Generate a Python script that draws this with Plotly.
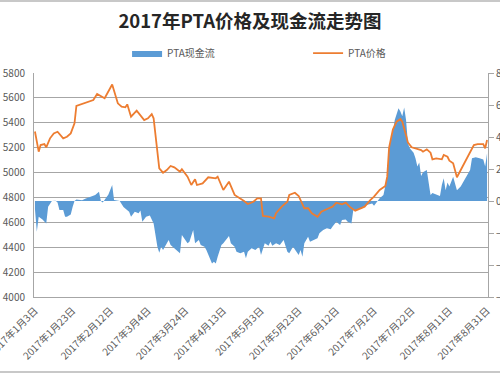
import plotly.graph_objects as go

price_dates = ["2017-01-03","2017-01-05","2017-01-06","2017-01-08","2017-01-09","2017-01-11","2017-01-13","2017-01-15",
"2017-01-18","2017-01-20","2017-01-22","2017-01-24","2017-01-25","2017-02-03","2017-02-05","2017-02-09","2017-02-13",
"2017-02-16","2017-02-18","2017-02-20","2017-02-21","2017-02-23","2017-02-26","2017-02-28","2017-03-02","2017-03-04",
"2017-03-06","2017-03-07","2017-03-09","2017-03-10","2017-03-12","2017-03-14","2017-03-16","2017-03-18","2017-03-21",
"2017-03-22","2017-03-25","2017-03-27","2017-03-29","2017-03-30","2017-04-02","2017-04-05","2017-04-09","2017-04-10",
"2017-04-13","2017-04-16","2017-04-19","2017-04-22","2017-04-24","2017-04-26","2017-04-29","2017-05-01","2017-05-03",
"2017-05-04","2017-05-07","2017-05-10","2017-05-11","2017-05-14","2017-05-17","2017-05-18","2017-05-21","2017-05-23",
"2017-05-25","2017-05-26","2017-05-28","2017-05-30","2017-06-02","2017-06-04","2017-06-08","2017-06-10","2017-06-12",
"2017-06-15","2017-06-17","2017-06-19","2017-06-22","2017-06-24","2017-06-27","2017-06-30","2017-07-02","2017-07-05",
"2017-07-08","2017-07-09","2017-07-10","2017-07-12","2017-07-14","2017-07-16","2017-07-17","2017-07-19","2017-07-20",
"2017-07-22","2017-07-25","2017-07-27","2017-07-28","2017-07-30","2017-08-01","2017-08-02","2017-08-04","2017-08-07",
"2017-08-08","2017-08-10","2017-08-11","2017-08-13","2017-08-15","2017-08-17","2017-08-20","2017-08-24","2017-08-26",
"2017-08-29","2017-08-30","2017-08-31"]
price_values = [5330,5168,5221,5229,5203,5275,5315,5328,
5275,5288,5315,5396,5535,5583,5631,5597,5708,
5556,5529,5524,5548,5449,5497,5462,5422,5436,
5470,5436,5181,5034,4999,5020,5053,5042,5007,
5026,4967,4900,4946,4900,4913,4962,4954,4967,
4860,4927,4820,4793,4771,4747,4766,4793,4793,
4651,4645,4632,4673,4726,4766,4820,4838,4812,
4739,4713,4713,4673,4645,4686,4713,4726,4758,
4745,4758,4726,4694,4705,4726,4779,4806,4860,
4892,4967,5200,5345,5409,5430,5409,5300,5240,
5203,5187,5181,5168,5187,5160,5106,5114,5106,
5141,5127,5095,5074,4962,5020,5101,5221,5229,
5229,5195,5262]

flow_dates = ["2017-01-03","2017-01-04","2017-01-05","2017-01-07","2017-01-09","2017-01-10","2017-01-12","2017-01-14",
"2017-01-15","2017-01-16","2017-01-18","2017-01-19","2017-01-20","2017-01-22","2017-01-23","2017-01-24","2017-01-25",
"2017-01-28","2017-01-30","2017-02-02","2017-02-04","2017-02-06","2017-02-07","2017-02-08","2017-02-09","2017-02-11",
"2017-02-13","2017-02-14","2017-02-17","2017-02-19","2017-02-22","2017-02-23","2017-02-25","2017-02-27","2017-02-28",
"2017-03-01","2017-03-03","2017-03-05","2017-03-07","2017-03-08","2017-03-09","2017-03-10","2017-03-11","2017-03-12",
"2017-03-14","2017-03-15","2017-03-16","2017-03-17","2017-03-19","2017-03-21","2017-03-22","2017-03-23","2017-03-25",
"2017-03-26","2017-03-28","2017-03-29","2017-03-31","2017-04-01","2017-04-03","2017-04-04","2017-04-06","2017-04-07",
"2017-04-08","2017-04-09","2017-04-10","2017-04-12","2017-04-13","2017-04-15","2017-04-16","2017-04-17","2017-04-19",
"2017-04-20","2017-04-22","2017-04-24","2017-04-25","2017-04-26","2017-04-28","2017-04-30","2017-05-02","2017-05-03",
"2017-05-05","2017-05-07","2017-05-08","2017-05-09","2017-05-11","2017-05-13","2017-05-15","2017-05-17","2017-05-18",
"2017-05-20","2017-05-22","2017-05-23","2017-05-24","2017-05-25","2017-05-26","2017-05-27","2017-05-28","2017-05-29",
"2017-05-31","2017-06-02","2017-06-03","2017-06-05","2017-06-07","2017-06-09","2017-06-10","2017-06-12","2017-06-14",
"2017-06-15","2017-06-17","2017-06-18","2017-06-20","2017-06-21","2017-06-23","2017-06-25","2017-06-26","2017-06-28",
"2017-07-01","2017-07-02","2017-07-04","2017-07-05","2017-07-07","2017-07-08","2017-07-09","2017-07-10","2017-07-12",
"2017-07-13","2017-07-14","2017-07-15","2017-07-16","2017-07-17","2017-07-18","2017-07-19","2017-07-20","2017-07-21",
"2017-07-23","2017-07-24","2017-07-25","2017-07-26","2017-07-27","2017-07-28","2017-07-30","2017-07-31","2017-08-01",
"2017-08-02","2017-08-04","2017-08-06","2017-08-07","2017-08-08","2017-08-09","2017-08-10","2017-08-11","2017-08-13",
"2017-08-14","2017-08-15","2017-08-17","2017-08-18","2017-08-20","2017-08-22","2017-08-23","2017-08-25","2017-08-27",
"2017-08-29","2017-08-30","2017-08-31"]
flow_values = [-0.5,-1.92,-0.98,-1.15,-1.4,-0.36,0.0,0.02,
-0.1,-0.56,-0.56,-0.98,-0.98,-0.85,-0.37,0.0,0.1,
0.05,0.15,0.27,0.38,0.58,0.0,-0.1,0.05,0.4,
1.0,0.06,0.0,-0.37,-0.67,-0.98,-0.67,-0.77,-0.6,
-1.29,-0.98,-0.9,-1.4,-2.23,-2.86,-3.23,-2.86,-3.06,
-2.64,-2.44,-2.75,-2.86,-3.06,-3.27,-2.13,-2.33,-2.64,
-2.54,-1.81,-2.64,-2.44,-2.75,-2.86,-3.06,-3.69,-3.9,
-3.8,-3.9,-3.48,-2.75,-2.64,-2.33,-2.19,-2.64,-2.86,
-3.17,-3.27,-3.17,-3.58,-3.17,-2.96,-3.06,-2.86,-3.38,
-2.64,-2.8,-2.54,-2.8,-2.64,-2.75,-2.44,-3.17,-3.27,
-2.86,-3.17,-3.38,-3.06,-3.48,-2.64,-2.44,-2.23,-2.54,
-2.44,-2.33,-2.02,-1.81,-1.71,-1.77,-1.6,-1.29,-1.5,
-1.19,-1.15,-1.29,-1.4,-0.56,-0.56,-0.46,-0.37,-0.25,
-0.15,-0.3,0.0,0.17,0.38,1.0,1.52,3.4,4.33,
5.06,5.38,5.79,5.6,5.3,5.85,5.06,3.6,3.29,
3.02,2.67,2.15,2.4,1.56,1.8,1.94,1.0,0.38,
0.5,0.38,0.31,1.0,1.42,0.67,1.15,0.9,1.52,
1.1,0.67,0.9,1.1,1.52,1.94,2.67,2.73,2.67,
2.6,2.15,2.98]

tick_dates = ["2017-01-03","2017-01-23","2017-02-12","2017-03-04","2017-03-24","2017-04-13","2017-05-03",
              "2017-05-23","2017-06-12","2017-07-02","2017-07-22","2017-08-11","2017-08-31"]
tick_labels = ["2017年1月3日","2017年1月23日","2017年2月12日","2017年3月4日","2017年3月24日","2017年4月13日",
               "2017年5月3日","2017年5月23日","2017年6月12日","2017年7月2日","2017年7月22日","2017年8月11日",
               "2017年8月31日"]
price_ticks = [4000,4200,4400,4600,4800,5000,5200,5400,5600,5800]
flow_ticks = [-6,-4,-2,0,2,4,6,8]

FONT = "Noto Sans CJK SC"
GRID = "#a6a6a6"
TXT = "#595959"

fig = go.Figure()
fig.add_trace(go.Scatter(
    x=flow_dates, y=flow_values, name="PTA现金流", yaxis="y",
    mode="lines", line=dict(width=0, color="#5B9BD5"),
    fill="tozeroy", fillcolor="#5B9BD5"))
fig.add_trace(go.Scatter(
    x=price_dates, y=price_values, name="PTA价格", yaxis="y2",
    mode="lines", line=dict(color="#ED7D31", width=1.8)))

fig.update_layout(
    width=500, height=375,
    margin=dict(l=34, r=12, t=73, b=78, autoexpand=False),
    paper_bgcolor="white", plot_bgcolor="white",
    font=dict(family=FONT, color=TXT, size=10),
    title=dict(text="<b>2017年PTA价格及现金流走势图</b>", x=0.5, xanchor="center",
               y=1 - 22/375, yanchor="middle",
               font=dict(family=FONT, size=18.5, color="#262626")),
    legend=dict(orientation="h", x=0.205, xanchor="left", y=1.089, yanchor="middle",
                font=dict(family=FONT, size=10, color=TXT), entrywidth=136,
                itemwidth=30, bgcolor="rgba(0,0,0,0)"),
    xaxis=dict(type="date", range=["2017-01-02 12:00", "2017-08-31 12:00"], automargin=False,
               tickvals=tick_dates, ticktext=tick_labels, tickangle=-45, ticklabeloverflow="allow",
               tickfont=dict(family=FONT, size=10, color=TXT),
               showgrid=False, showline=True, linecolor=GRID, linewidth=1,
               ticks="outside", ticklen=3, tickcolor="rgba(0,0,0,0)", zeroline=False),
    yaxis=dict(side="right", range=[-6, 8], tickvals=flow_ticks, automargin=False,
               ticklabeloverflow="allow",
               showgrid=False, zeroline=False, showline=True, linecolor=GRID, linewidth=1,
               ticks="outside", ticklen=5, tickcolor=GRID,
               tickfont=dict(family=FONT, size=10, color=TXT)),
    yaxis2=dict(side="left", overlaying="y", range=[4000, 5800], tickvals=price_ticks, automargin=False,
                showgrid=True, gridcolor=GRID, gridwidth=1, zeroline=False,
                showline=True, linecolor=GRID, linewidth=1,
                ticks="outside", ticklen=6, tickcolor="rgba(0,0,0,0)",
                tickfont=dict(family=FONT, size=10, color=TXT)),
    shapes=[
        dict(type="line", xref="paper", yref="paper", x0=-0.08, x1=1.03, y0=(297-1)/224, y1=(297-1)/224,
             line=dict(color="#c8c8c8", width=2)),
        dict(type="line", xref="paper", yref="paper", x0=-0.08, x1=1.03, y0=(297-372)/224, y1=(297-372)/224,
             line=dict(color="#c8c8c8", width=2)),
    ],
)

fig.write_html("out.html", config={"displayModeBar": False},
               post_script="document.body.style.margin='0';")
